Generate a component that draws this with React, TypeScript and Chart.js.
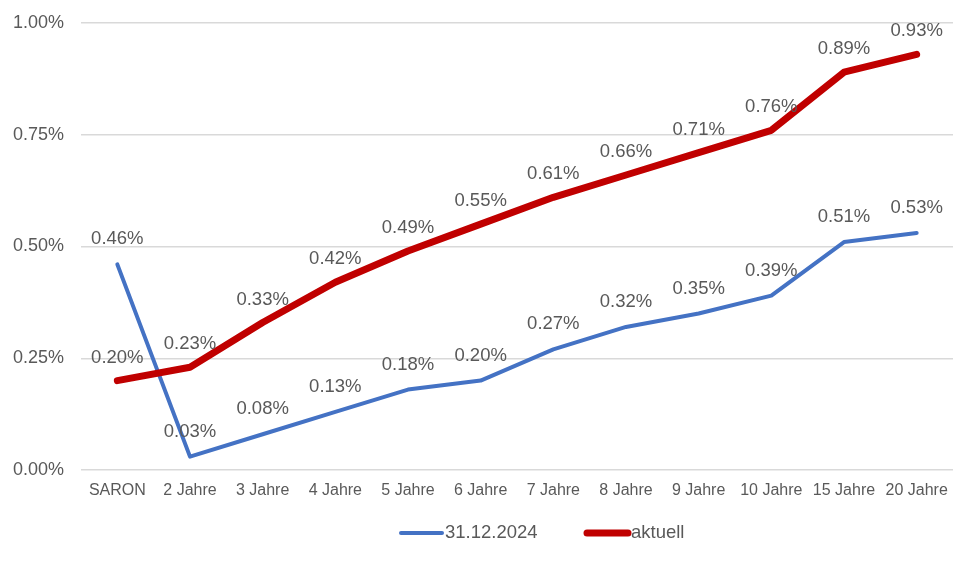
import React, { useEffect, useRef } from "react";
import { Chart, registerables } from "chart.js";

Chart.register(...registerables);

const categories = ["SARON", "2 Jahre", "3 Jahre", "4 Jahre", "5 Jahre", "6 Jahre", "7 Jahre", "8 Jahre", "9 Jahre", "10 Jahre", "15 Jahre", "20 Jahre"];
const seriesPrev = [0.46, 0.03, 0.08, 0.13, 0.18, 0.20, 0.27, 0.32, 0.35, 0.39, 0.51, 0.53];
const seriesNow = [0.20, 0.23, 0.33, 0.42, 0.49, 0.55, 0.61, 0.66, 0.71, 0.76, 0.89, 0.93];
const seriesNames = ["31.12.2024", "aktuell"];

const BLUE = "#4472c4";
const RED = "#c00000";
const TEXT = "#595959";
const FONT = "'Liberation Sans', Arial, sans-serif";

// distance of the value label centre above its point, per dataset
const LABEL_OFFSETS = [25, 23];

const fmt = (v: number) => v.toFixed(2) + "%";

// Value labels above each point plus a line-sample legend at the bottom
const overlayPlugin = {
  id: "overlay",
  afterDatasetsDraw(chart: any) {
    const ctx = chart.ctx;
    ctx.save();
    ctx.fillStyle = TEXT;
    ctx.font = `18.5px ${FONT}`;
    ctx.textAlign = "center";
    ctx.textBaseline = "middle";
    chart.data.datasets.forEach((ds: any, i: number) => {
      const meta = chart.getDatasetMeta(i);
      meta.data.forEach((pt: any, j: number) => {
        ctx.fillText(fmt(ds.data[j]), pt.x, pt.y - LABEL_OFFSETS[i]);
      });
    });

    // legend
    const legendY = 533;
    const items = [
      { label: seriesNames[0], color: BLUE, width: 4, x0: 401, x1: 442 },
      { label: seriesNames[1], color: RED, width: 7, x0: 587, x1: 628 },
    ];
    ctx.textAlign = "left";
    ctx.font = `18.5px ${FONT}`;
    items.forEach((it) => {
      ctx.strokeStyle = it.color;
      ctx.lineWidth = it.width;
      ctx.lineCap = "round";
      ctx.beginPath();
      ctx.moveTo(it.x0, legendY);
      ctx.lineTo(it.x1, legendY);
      ctx.stroke();
      ctx.fillStyle = TEXT;
      ctx.fillText(it.label, it.x1 + 3, legendY);
    });
    ctx.restore();
  },
};

export default function App() {
  const ref = useRef<HTMLCanvasElement | null>(null);

  useEffect(() => {
    if (!ref.current) return;
    const chart = new Chart(ref.current, {
      type: "line",
      data: {
        labels: categories,
        datasets: [
          {
            label: seriesNames[0],
            data: seriesPrev,
            borderColor: BLUE,
            backgroundColor: BLUE,
            borderWidth: 4,
            pointRadius: 0,
            tension: 0,
            borderCapStyle: "round",
            borderJoinStyle: "round",
            order: 2,
          },
          {
            label: seriesNames[1],
            data: seriesNow,
            borderColor: RED,
            backgroundColor: RED,
            borderWidth: 7,
            pointRadius: 0,
            tension: 0,
            borderCapStyle: "round",
            borderJoinStyle: "round",
            order: 1,
          },
        ],
      },
      options: {
        responsive: false,
        animation: false,
        layout: { padding: { top: 23, right: 25, left: 0, bottom: 0 } },
        plugins: {
          legend: { display: false },
          tooltip: { enabled: false },
        },
        scales: {
          x: {
            offset: true,
            grid: { display: false, drawTicks: false },
            border: { display: false },
            ticks: { color: TEXT, font: { family: FONT, size: 16 }, padding: 11, maxRotation: 0, autoSkip: false },
            afterFit: (s: any) => {
              s.height = 94;
              s.paddingLeft = 0;
              s.paddingRight = 0;
            },
          },
          y: {
            min: 0,
            max: 1,
            grid: { color: "#d9d9d9", lineWidth: 1.5, drawTicks: false },
            border: { display: false },
            ticks: {
              stepSize: 0.25,
              color: TEXT,
              font: { family: FONT, size: 18 },
              padding: 17,
              callback: (v: any) => fmt(Number(v)),
            },
            afterFit: (s: any) => {
              s.width = 81;
              s.paddingTop = 0;
              s.paddingBottom = 0;
            },
          },
        },
      },
      plugins: [overlayPlugin],
    });
    return () => chart.destroy();
  }, []);

  return (
    <div style={{ position: "fixed", left: 0, top: 0, width: 978, height: 564, background: "#fff" }}>
      <canvas ref={ref} width={978} height={564} style={{ display: "block" }} />
    </div>
  );
}
